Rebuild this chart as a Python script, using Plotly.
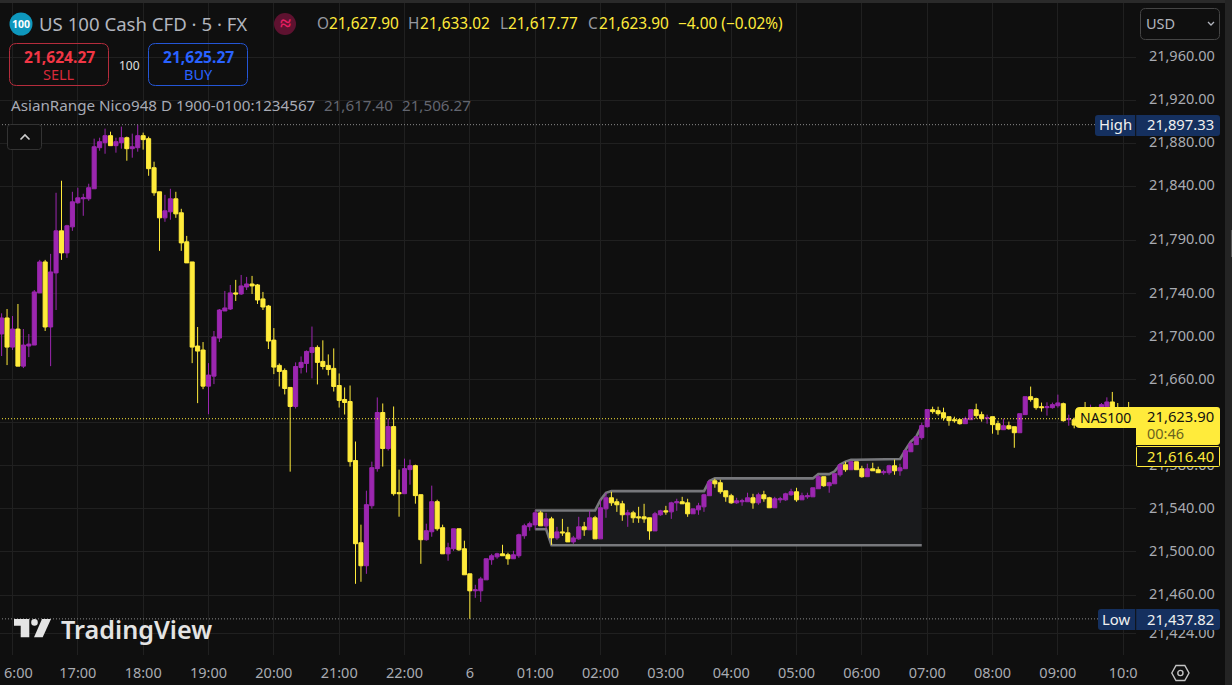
import plotly.graph_objects as go

opens = [
21702.7,21717.6,21690.5,21707.3,21672.8,21691.5,21692.4,21740.9,21769.7,21709.2,
21759.5,21798.6,21778.1,21802.3,21824.7,21828.4,21828.4,21837.7,21875.9,21880.6,
21887.1,21877.8,21880.6,21885.2,21875,21875.9,21887.1,21884.3,21857.3,21834.9,
21810.7,21816.3,21828.4,21815.4,21788.4,21769.7,21691.5,21687.8,21654.2,21663.5,
21698.9,21724.1,21725.9,21740.9,21739.9,21746.4,21749.2,21748.3,21735.3,21728.7,
21697,21673.5,21668.8,21653,21635.3,21671.6,21675.3,21685.6,21690.2,21677.2,
21673.5,21670.7,21654.8,21641.8,21639.9,21585,21508.6,21487.2,21543,21577.5,
21629.7,21596.2,21616.6,21555.2,21554.2,21576.6,21580.3,21553.3,21511.4,21518.8,
21546.8,21522.6,21498.3,21503,21521.6,21503,21479.7,21463.9,21463.9,21474.1,
21492.8,21495.5,21498.3,21497.4,21493.7,21496.5,21515.1,21523.5,21525.2,21536.4,
21524.3,21530.8,21513.1,21518.7,21517.8,21509.4,21512.2,21523.4,21520.6,21531.8,
21512.2,21540.1,21550.4,21546.7,21544.8,21534.6,21536.4,21532.7,21532.7,21531.8,
21519.6,21534.6,21538.3,21537.3,21545.7,21546.7,21545.7,21535.5,21539.2,21542,
21552.3,21566.2,21564.4,21556.9,21552.3,21545.7,21546.7,21546.7,21550.4,21545.7,
21553.2,21550.4,21541.1,21548.5,21548.5,21553.2,21556,21548.5,21551.3,21551.3,
21558.8,21570,21561.6,21563.4,21571.8,21581.1,21576.5,21583.9,21577.4,21570,
21577.4,21576.5,21573.7,21573.7,21580.2,21575.5,21577.4,21593.2,21599.8,21606.3,
21616.5,21632.3,21631.4,21629.5,21625.8,21623,21623,21619.3,21623,21632.3,
21627.7,21624,21625.8,21619.3,21613.7,21617.4,21616.5,21610.9,21627.7,21644.4,
21642.6,21635.1,21634.2,21634.2,21636,21637.9,21623,21623,21618,21630,
21622,21630,21625,21635,21639.5,21630,21626,21628.4,21627.9]

closes = [
21717.6,21690.5,21707.3,21672.8,21692.4,21693.3,21741.8,21769.7,21709.2,21760.4,
21798.6,21778.1,21803.3,21825.6,21829.3,21829.3,21838.7,21876.8,21881.5,21887.1,
21877.8,21881.5,21885.2,21875,21876.8,21887.1,21883.4,21856.4,21834,21810.7,
21817.2,21828.4,21814.4,21787.4,21768.8,21690.5,21686.8,21654.2,21664.5,21699.9,
21725,21726.9,21740.9,21739.9,21747.4,21749.2,21747.4,21734.3,21727.8,21696.1,
21671.9,21667.9,21652,21635.3,21672.5,21676.3,21686.5,21690.2,21676.3,21672.5,
21669.7,21653.9,21640.9,21639,21584,21507.7,21487.2,21544,21578.4,21629.7,
21596.2,21616.6,21554.2,21554.2,21577.5,21580.3,21552.4,21511.4,21519.8,21546.8,
21521.6,21498.3,21503.9,21521.6,21502,21478.8,21463.9,21464.8,21475,21493.7,
21496.5,21498.3,21496.5,21493.7,21497.4,21516,21524.4,21526.3,21536.4,21524.3,
21530.8,21513.1,21518.7,21517.8,21509.4,21513.1,21523.4,21520.6,21531.8,21512.2,
21541.1,21550.4,21545.7,21543.9,21534.6,21536.4,21531.8,21531.8,21530.8,21519.6,
21535.5,21538.3,21537.3,21545.7,21546.7,21544.8,21535.5,21540.1,21542.9,21553.2,
21565.3,21563.4,21556,21551.3,21545.7,21547.6,21547.6,21550.4,21545.7,21553.2,
21549.5,21541.1,21549.5,21549.5,21554.1,21556,21548.5,21552.3,21552.3,21559.7,
21570,21561.6,21564.4,21572.8,21581.1,21576.5,21583.9,21576.5,21570,21577.4,
21575.5,21573.7,21574.6,21580.2,21575.5,21578.3,21594.2,21600.7,21607.2,21617.5,
21632.4,21630.5,21628.6,21624.9,21622.1,21622.1,21619.3,21624,21632.3,21626.8,
21624,21624.9,21618.4,21613.7,21617.4,21614.6,21610.9,21628.6,21644.4,21641.7,
21634.2,21634.2,21635.1,21637,21638.6,21622.1,21624,21618,21621,21622,
21630,21625,21637,21639.5,21630,21628,21628,21628,21623.9]

highs = [
21721.9,21725.9,21719.4,21730.6,21707.3,21702.7,21743.6,21771.6,21771.6,21777.2,
21834,21845.2,21804.2,21834.9,21838.7,21833.1,21842.4,21884.3,21885.2,21893.6,
21890.8,21885.2,21895.5,21886.2,21889,21897.33,21889.9,21886.2,21862.9,21834.9,
21832.1,21837.7,21834.9,21819.1,21793.9,21769.7,21709.2,21695.2,21675.6,21705.5,
21725.9,21742.7,21748.3,21753,21757.6,21755.8,21756.7,21749.2,21741.8,21729.7,
21708.2,21675.3,21670.7,21653,21676.3,21681.8,21687.4,21709.6,21692.1,21696.8,
21683.7,21689.3,21666,21653,21654.8,21602.7,21525.4,21557,21584,21643.7,
21638.1,21624.1,21635.3,21576.6,21586.8,21585.9,21581.2,21553.3,21526.3,21561.7,
21548.6,21525.4,21508.6,21521.6,21521.6,21510.5,21479.7,21469.5,21476.9,21493.7,
21498.3,21499.3,21506.7,21499.3,21501.1,21517,21526.3,21528.2,21539.2,21538.3,
21536.4,21532.7,21523.4,21530.8,21523.4,21515,21532.7,21528,21538.3,21533.6,
21548.5,21555,21556,21549.5,21547.6,21539.2,21538.3,21542,21544.8,21531.8,
21537.3,21539.2,21542.9,21546.7,21549.5,21551.3,21549.5,21540.1,21545.7,21554.1,
21567.2,21568.1,21567.2,21556.9,21554.1,21550.4,21549.5,21555.1,21554.1,21555.1,
21556.9,21551.3,21551.3,21551.3,21555.1,21558.8,21559.7,21555.1,21555.1,21559.7,
21571.8,21570,21565.3,21572.8,21582.1,21583.9,21584.9,21583.9,21580.2,21582.1,
21583,21579.3,21576.5,21581.1,21585.8,21582.1,21595.1,21602.6,21607.2,21620.3,
21632.4,21635.1,21635.1,21634.2,21625.8,21625.8,21624,21625.8,21632.3,21637.9,
21630.5,21627.7,21625.8,21622.1,21624,21621.2,21616.5,21628.6,21644.4,21653.8,
21643.5,21638.9,21639.2,21638.9,21646.3,21638.9,21627.7,21625,21624,21639.5,
21637,21635,21638.5,21643.8,21648.8,21638.5,21631,21639.5,21633.02]

lows = [
21682.2,21673.8,21687.8,21672.8,21671,21681.2,21692.4,21740.9,21705.5,21672.8,
21725,21771.6,21773.5,21798.6,21823.8,21812.6,21826.5,21837.7,21873.1,21870.3,
21877.8,21871.3,21875,21863.8,21866.6,21872.2,21874.1,21849.8,21831.2,21780,
21807,21808.9,21810.7,21780,21768.8,21675.6,21638.4,21651.4,21628.1,21656.1,
21695.2,21724.1,21725,21733.4,21739,21743.6,21739.9,21730.6,21725,21688.7,
21665.4,21653.9,21646.5,21574.7,21633.4,21666,21666.9,21661.4,21655.8,21669.7,
21664.2,21649.2,21634.3,21627.8,21579.4,21470.4,21472.3,21479.7,21540.3,21574.7,
21579.4,21594.3,21552.4,21532.8,21554.2,21562.6,21544.9,21489,21510.5,21514.2,
21519.8,21498.3,21491.8,21501.1,21501.1,21478.8,21437.82,21457.4,21453.6,21474.1,
21488.1,21493.7,21496.5,21488.1,21493.7,21494.6,21512.3,21519.8,21520.6,21524.3,
21520.6,21506.6,21511.3,21515,21509.4,21507.5,21511.3,21515,21520.6,21512.2,
21512.2,21531.8,21542.9,21537.3,21529,21523.4,21527.1,21527.1,21527.1,21511.3,
21519.6,21533.6,21534.6,21530.8,21538.3,21544.8,21532.7,21535.5,21534.6,21537.3,
21552.3,21559.7,21554.1,21546.7,21544.8,21544.8,21543,21546.7,21540.2,21543.9,
21546.7,21541.1,21541.1,21545.7,21547.6,21552.3,21546.7,21548.5,21549.5,21551.3,
21558.8,21560.6,21555.1,21563.4,21570,21574.6,21576.5,21576.5,21569,21570,
21575.5,21573.7,21571.8,21571.8,21571.8,21570.9,21577.4,21593.2,21599.8,21604.4,
21615.6,21628.6,21626.8,21622.1,21617.4,21620.2,21618.4,21619.3,21623,21624,
21621.2,21619.3,21610,21609,21613.7,21613.7,21596.9,21610.9,21627.7,21639.8,
21632.3,21630.5,21626.8,21633.3,21634.2,21621.2,21617.4,21615,21616,21620,
21620,21623,21623,21632,21628,21626,21622,21623,21617.77]

bars = list(range(len(opens)))

# Asian range box: starts at bar 98
range_start = 98
range_upper = [
21538.6,21538.6,21538.6,21538.6,21538.6,21538.6,21538.6,21538.6,21538.6,21538.6,21538.6,21538.6,
21548.5,21555,
21556.6,21556.6,21556.6,21556.6,21556.6,21556.6,21556.6,21556.6,21556.6,21556.6,21556.6,21556.6,21556.6,21556.6,21556.6,21556.6,21556.6,21556.6,
21566,
21568.4,21568.4,21568.4,21568.4,21568.4,21568.4,21568.4,21568.4,21568.4,21568.4,21568.4,21568.4,21568.4,21568.4,21568.4,21568.4,21568.4,21568.4,21568.4,
21572.4,21572.4,21572.4,21575,21581.4,21584,
21585.8,21585.8,21585.8,21585.8,21585.8,21585.8,21585.8,21585.8,21585.8,
21586.4,21595,21602.6,21607.2,21617.4]
range_lower = [
21521.2,21521.2,21521.2,
21506.27,21506.27,21506.27,21506.27,21506.27,21506.27,21506.27,21506.27,21506.27,21506.27,21506.27,21506.27,
21506.27,21506.27,21506.27,21506.27,21506.27,21506.27,21506.27,21506.27,21506.27,21506.27,21506.27,21506.27,
21506.27,21506.27,21506.27,21506.27,21506.27,21506.27,21506.27,21506.27,21506.27,21506.27,21506.27,21506.27,
21506.27,21506.27,21506.27,21506.27,21506.27,21506.27,21506.27,21506.27,21506.27,21506.27,21506.27,21506.27,
21506.27,21506.27,21506.27,21506.27,21506.27,21506.27,21506.27,21506.27,21506.27,21506.27,21506.27,21506.27,
21506.27,21506.27,21506.27,21506.27,21506.27,21506.27,21506.27,21506.27,21506.27]
range_bars = bars[range_start:range_start + len(range_upper)]

tick_bars = [2,14,26,38,50,62,74,86,98,110,122,134,146,158,170,182,194,206]
tick_labels = ["","17:00","18:00","19:00","20:00","21:00","22:00","6","01:00","02:00",
               "03:00","04:00","05:00","06:00","07:00","08:00","09:00","10:0"]
price_ticks = [21960,21920,21880,21840,21790,21740,21700,21660,21620,21580,21540,21500,21460,21424]

day_high = 21897.33
day_low = 21437.82
last_price = 21623.90

BG = "#0f0f0f"; GRID = "#202020"; PURPLE = "#9c27b0"; YELLOW = "#ffeb3b"
AXTXT = "#a9abb2"; FONT = "Noto Sans"
W = 1136.0; H = 652.0; TOP = 3.0
Y_RANGE = [21404.22, 22010.45]
X_RANGE = [-0.296, 208.35]

def X(x): return x / W
def Y(y): return 1 - (y - TOP) / H

fig = go.Figure()
fig.add_trace(go.Scatter(x=range_bars, y=range_lower, mode="lines", hoverinfo="skip",
                         line=dict(color="#77787c", width=2.6)))
fig.add_trace(go.Scatter(x=range_bars, y=range_upper, mode="lines", hoverinfo="skip",
                         fill="tonexty", fillcolor="#191a1c",
                         line=dict(color="#77787c", width=2.6)))
fig.add_trace(go.Candlestick(x=bars, open=opens, high=highs, low=lows, close=closes,
                             xaxis="x2", yaxis="y2", whiskerwidth=0,
                             increasing=dict(line=dict(color=PURPLE, width=1), fillcolor=PURPLE),
                             decreasing=dict(line=dict(color=YELLOW, width=1), fillcolor=YELLOW)))

shapes = []
annos = []

def text(x, y, s, color, size=14, anchor="left", weight=None, font=FONT):
    annos.append(dict(xref="paper", yref="paper", x=X(x), y=Y(y), text=s, showarrow=False,
                      xanchor=anchor, yanchor="middle", borderpad=0,
                      font=dict(color=color, size=size, family=font,
                                weight=weight if weight else "normal")))

def rrect(x0, y0, x1, y1, r=4, fill=None, stroke=None, sw=1, rl=None, rr=None):
    rl = r if rl is None else rl
    rr = r if rr is None else rr
    p = (f"M{X(x0+rl)},{Y(y0)} L{X(x1-rr)},{Y(y0)} Q{X(x1)},{Y(y0)} {X(x1)},{Y(y0+rr)} "
         f"L{X(x1)},{Y(y1-rr)} Q{X(x1)},{Y(y1)} {X(x1-rr)},{Y(y1)} "
         f"L{X(x0+rl)},{Y(y1)} Q{X(x0)},{Y(y1)} {X(x0)},{Y(y1-rl)} "
         f"L{X(x0)},{Y(y0+rl)} Q{X(x0)},{Y(y0)} {X(x0+rl)},{Y(y0)} Z")
    shapes.append(dict(type="path", xref="paper", yref="paper", path=p,
                       fillcolor=fill if fill else "rgba(0,0,0,0)",
                       line=dict(color=stroke if stroke else "rgba(0,0,0,0)", width=sw if stroke else 0)))

def poly(points, fill=None, stroke=None, sw=1, close=True):
    p = "M" + " L".join(f"{X(a)},{Y(b)}" for a, b in points) + (" Z" if close else "")
    shapes.append(dict(type="path", xref="paper", yref="paper", path=p,
                       fillcolor=fill if fill else "rgba(0,0,0,0)",
                       line=dict(color=stroke if stroke else "rgba(0,0,0,0)", width=sw if stroke else 0)))

def circle(cx, cy, r, fill=None, stroke=None, sw=1):
    shapes.append(dict(type="circle", xref="paper", yref="paper",
                       x0=X(cx-r), x1=X(cx+r), y0=Y(cy+r), y1=Y(cy-r),
                       fillcolor=fill if fill else "rgba(0,0,0,0)",
                       line=dict(color=stroke if stroke else "rgba(0,0,0,0)", width=sw if stroke else 0)))

# reference lines
for val, col, x1 in [(day_high, "#8a8a8a", 1095), (day_low, "#8a8a8a", 1098), (last_price, YELLOW, 1136)]:
    shapes.append(dict(type="line", xref="paper", yref="y", x0=X(2), x1=X(x1), y0=val, y1=val,
                       line=dict(color=col, width=1, dash="1px,2px")))

# window chrome
poly([(0,0),(1232,0),(1232,3),(0,3)], fill="#2a2a2a")
poly([(1225,0),(1232,0),(1232,685),(1225,685)], fill="#242424")
poly([(1231,230),(1232,230),(1232,257),(1231,257)], fill="#555555")

# price labels
LBL = 14.8
rrect(1095,115,1135.2,136, rl=3, rr=0, fill="#15305f")
rrect(1136.2,115,1220,136, rl=0, rr=3, fill="#15305f")
text(1115,124,"High","#f0f0f0",LBL,"center")
text(1180,124,"21,897.33","#f0f0f0",LBL,"center")
rrect(1098,609,1135.2,630, rl=3, rr=0, fill="#15305f")
rrect(1136.2,609,1220,630, rl=0, rr=3, fill="#15305f")
text(1116,619,"Low","#f0f0f0",LBL,"center")
text(1180,619,"21,437.82","#f0f0f0",LBL,"center")
rrect(1075,407,1136,428, rl=5, rr=0, fill=YELLOW)
text(1105,417,"NAS100","#111111",14,"center")
rrect(1136,407,1220,445, rl=0, rr=3, fill=YELLOW)
text(1180,416,"21,623.90","#111111",LBL,"center")
text(1146,433,"00:46","#6b6320",14.5)
rrect(1136.5,446.5,1219.5,466.5, r=1, fill=BG, stroke=YELLOW, sw=1)
text(1180,456,"21,616.40",YELLOW,LBL,"center")

# header
circle(21,24,11.5,fill="#0e97bd")
text(21,24,"100","#ffffff",10.5,"center","bold")
text(38,23.5,"US 100 Cash CFD · 5 · FX","#b2b5be",18.6)
circle(285,24,11,fill="#5e1230")
text(285,22.5,"≈","#e91e63",20,"center","bold")
OH = 15.4
text(316,23.5,"O","#9598a1",OH)
text(328,23.5,"21,627.90",YELLOW,OH)
text(407,23.5,"H","#9598a1",OH)
text(419,23.5,"21,633.02",YELLOW,OH)
text(499,23.5,"L","#9598a1",OH)
text(507,23.5,"21,617.77",YELLOW,OH)
text(587,23.5,"C","#9598a1",OH)
text(598,23.5,"21,623.90",YELLOW,OH)
text(677,23.5,"−4.00 (−0.02%)",YELLOW,OH)

# trade buttons
rrect(9.5,43.5,108.5,85.5, r=7, stroke="#b52c3c", sw=1)
text(59,57,"21,624.27","#f23645",15.6,"center","bold")
text(59,74,"SELL","#d8293a",14.5,"center")
text(129,65,"100","#e0e0e0",12,"center")
rrect(148.5,43.5,247.5,85.5, r=7, stroke="#2456d6", sw=1)
text(198,57,"21,625.27","#2962ff",15.6,"center","bold")
text(198,74,"BUY","#2962ff",14.5,"center")

# indicator legend
text(10,104.5,"AsianRange Nico948 D 1900-0100:1234567","#a8abb5",15.2)
text(323,104.5,"21,617.40","#63666f",15.2)
text(401,104.5,"21,506.27","#63666f",15.2)

# collapse button
rrect(7.5,124.5,41.5,149.5, r=3, stroke="#333333", sw=1, fill=BG)
poly([(20.5,139.5),(25,135),(29.5,139.5)], stroke="#cfcfcf", sw=1.6, close=False)

# currency button
rrect(1140.5,8.5,1219.5,39.5, r=5, stroke="#454545", sw=1, fill=BG)
text(1145,23.5,"USD","#b2b5be",14.5)
poly([(1208,22),(1211,25),(1214,22)], stroke="#b2b5be", sw=1.3, close=False)

# settings icon
poly([(1171.8,673),(1176,665.5),(1184.8,665.5),(1189,673),(1184.8,680.5),(1176,680.5)], stroke="#c4c4c4", sw=1.4)
circle(1180.4,673,2.6,stroke="#c4c4c4",sw=1.4)

# TradingView logo
LOGO = "#e4e4e4"
poly([(14,619),(29.3,619),(29.3,637.3),(20.7,637.3),(20.7,625.7),(14,625.7)], fill=LOGO)
circle(34.5,622.4,3.3,fill=LOGO)
poly([(42,619),(51,619),(42.7,637.3),(34,637.3)], fill=LOGO)
text(59.5,628.5,"TradingView",LOGO,25.2,"left",600)

# first time label, cut by the left edge of the chart
text(2.5,672.5,"6:00",AXTXT,14.5)

fig.update_layout(
    width=1232, height=685, margin=dict(l=0, r=96, t=3, b=30, pad=0, autoexpand=False),
    paper_bgcolor=BG, plot_bgcolor=BG, showlegend=False, boxgap=0.25, boxgroupgap=0,
    font=dict(family=FONT, color=AXTXT, size=14),
    xaxis=dict(range=X_RANGE, tickmode="array", tickvals=tick_bars, ticktext=tick_labels,
               showgrid=True, gridcolor=GRID, gridwidth=1, zeroline=False, showline=False,
               ticks="outside", ticklen=5, tickcolor=BG, tickfont=dict(color=AXTXT, size=14.5, family=FONT),
               fixedrange=True),
    yaxis=dict(range=Y_RANGE, side="right", tickmode="array", tickvals=price_ticks,
               tickformat=",.2f", showgrid=True, gridcolor=GRID, gridwidth=1, zeroline=False, showline=False,
               ticks="outside", ticklen=9, tickcolor=BG, tickfont=dict(color=AXTXT, size=14.5, family=FONT),
               ticklabelshift=-1, fixedrange=True),
    xaxis2=dict(range=X_RANGE, overlaying="x", visible=False, rangeslider=dict(visible=False),
                fixedrange=True),
    yaxis2=dict(range=Y_RANGE, overlaying="y", visible=False, fixedrange=True),
    shapes=shapes, annotations=annos,
)

fig.write_html("out.html", config=dict(displayModeBar=False),
               post_script="document.body.style.margin='0';document.body.style.background='#0f0f0f';document.body.style.overflow='hidden';")
